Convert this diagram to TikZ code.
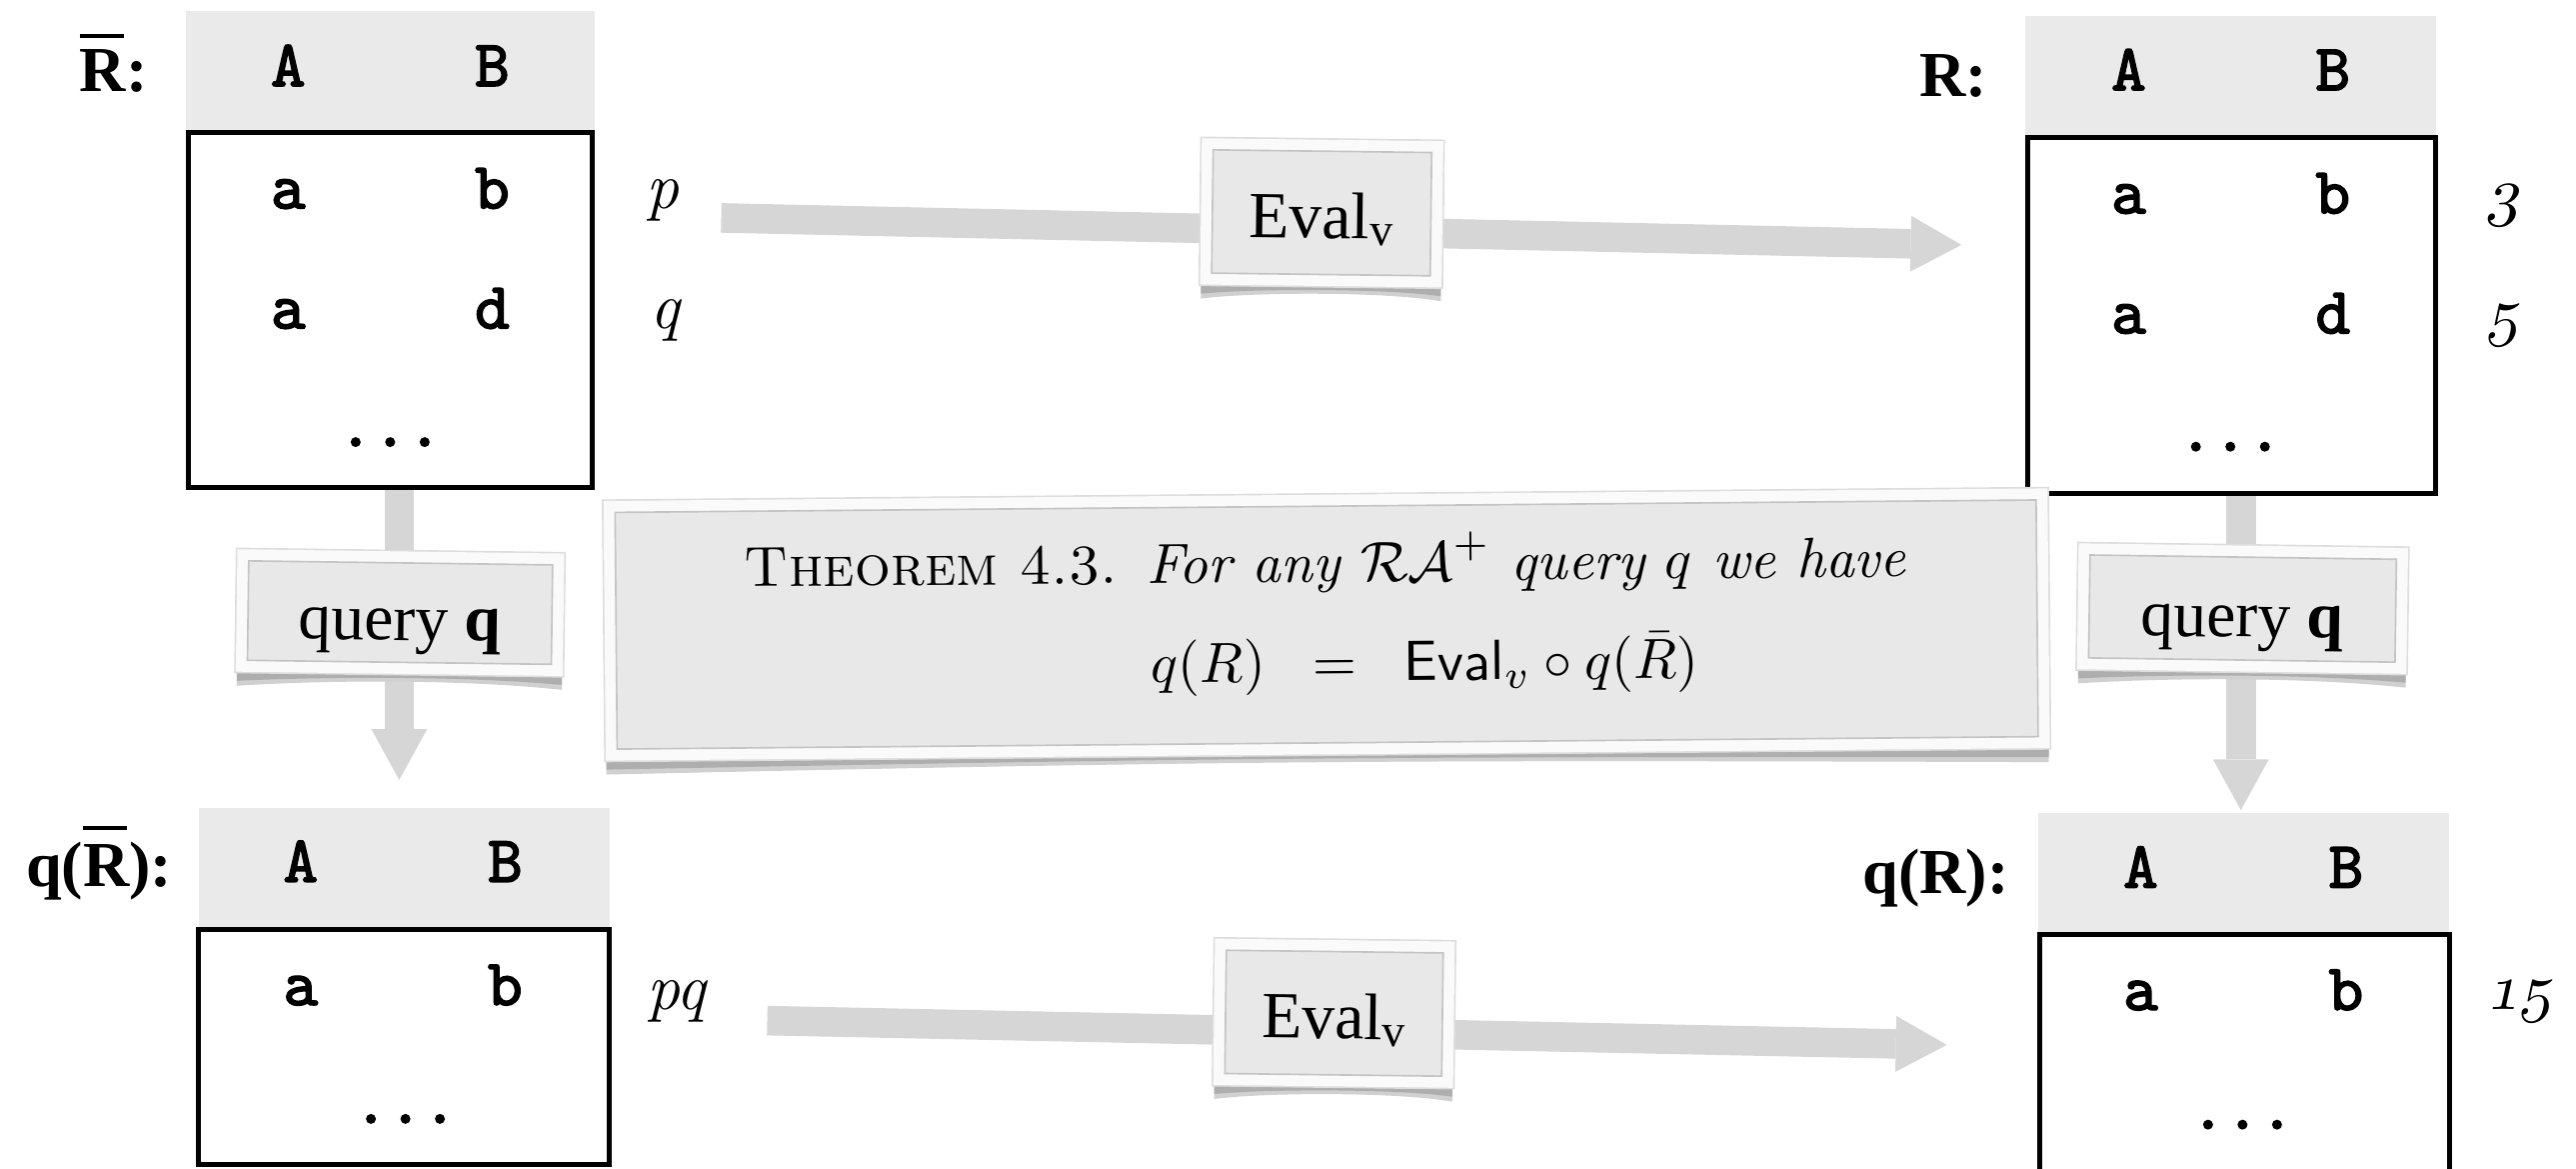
\documentclass[tikz,border=0pt]{standalone}
\usepackage{fontspec}
\newfontfamily\tms{Liberation Serif}
\newfontfamily\ttb[FakeBold=2.5]{lmmono10-regular.otf}
\usetikzlibrary{arrows.meta,calc}
\definecolor{hdrgray}{HTML}{EAEAEA}
\definecolor{arrgray}{HTML}{D6D6D6}
\definecolor{boxgray}{HTML}{E8E8E8}
\definecolor{boxline}{HTML}{C4C4C4}
\definecolor{framefill}{HTML}{FAFAFA}
\definecolor{frameline}{HTML}{DDDDDD}
\definecolor{shadowc}{HTML}{AEAEAE}
\definecolor{shadowd}{HTML}{D0D0D0}
\pgfdeclarelayer{arrowlayer}
\pgfdeclarelayer{shadowlayer}
\pgfsetlayers{arrowlayer,shadowlayer,main}
\newcommand\barR[1]{\makebox[0pt][l]{\raisebox{#1}{\rule{0.68em}{0.07em}}}R}
\newcommand\curlshadow[1]{%
  \begin{pgfonlayer}{shadowlayer}
    \fill[shadowd] ($(#1.south west)+(-6,5)$) -- ($(#1.south east)+(6,5)$)
      -- ($(#1.south east)+(6,15)$) .. controls ($(#1.south)+(40,10)$) and ($(#1.south)+(-40,10)$) .. ($(#1.south west)+(-6,15)$) -- cycle;
    \fill[shadowc] ($(#1.south west)+(-6,5)$) -- ($(#1.south east)+(6,5)$)
      -- ($(#1.south east)+(6,12)$) .. controls ($(#1.south)+(40,8)$) and ($(#1.south)+(-40,8)$) .. ($(#1.south west)+(-6,12)$) -- cycle;
  \end{pgfonlayer}}
\tikzset{
  hdr/.style={fill=hdrgray, inner sep=0pt},
  tbody/.style={draw=black, line width=3pt, inner sep=0pt},
  cell/.style={anchor=base, inner sep=0pt, font=\fontsize{40}{42}\selectfont\ttb},
  rlabel/.style={anchor=base east, inner sep=0pt, font=\fontsize{39}{42}\selectfont\tms\bfseries},
  ann/.style={anchor=base, inner sep=0pt, font=\fontsize{40}{44}\selectfont\itshape},
  num/.style={anchor=base, inner sep=0pt, scale=4, xslant=0.22, font=\fontsize{10}{12}\selectfont\usefont{OML}{cmm}{m}{it}},
  bigarrow/.style={draw=arrgray, line width=18pt, -{Triangle[width=34pt,length=31pt,line width=0pt]}},
  tagbox/.style={fill=boxgray, draw=boxline, line width=1pt, inner sep=0pt, text depth=0pt,
    preaction={draw=frameline, line width=16pt},
    preaction={draw=framefill, line width=14pt},
    font=\fontsize{40}{44}\selectfont\tms},
  thmtext/.style={anchor=base, inner sep=0pt, rotate=0.5, scale=3.44, font=\fontsize{10}{12}\selectfont},
}
\begin{document}
\begin{tikzpicture}[x=1pt,y=-1pt]
\useasboundingbox (0,0) rectangle (1568,711);
% ---------- table R-bar (top left)
\node[hdr, minimum width=249pt, minimum height=73pt] (hRb) at (237.5,43.5) {};
\node[tbody, minimum width=246pt, minimum height=216pt] (bRb) at (237.5,188.5) {};
\node[rlabel] (lRb) at (90,55.8) {\barR{0.837em}:};
\node[cell] (hRbA) at (175.4,52.3) {A};
\node[cell] (hRbB) at (299.6,52.3) {B};
\node[cell] (c11) at (175.4,126.8) {a};
\node[cell] (c12) at (299.6,126.8) {b};
\node[cell] (c21) at (175.4,199.8) {a};
\node[cell] (c22) at (299.6,199.8) {d};
\node[cell] (cdots1) at (237.5,271.5) {...};
\node[ann] (ap) at (403.6,126.8) {p};
\node[ann] (aq) at (405,200) {q};
% ---------- table R (top right)
\node[hdr, minimum width=250pt, minimum height=72.3pt] (hR) at (1358,45.85) {};
\node[tbody, minimum width=248pt, minimum height=217pt] (bR) at (1358.5,192) {};
\node[rlabel] (lR) at (1210,59) {R:};
\node[cell] (hRA) at (1295.7,54.8) {A};
\node[cell] (hRB) at (1420,54.8) {B};
\node[cell] (d11) at (1295.7,129.8) {a};
\node[cell] (d12) at (1420,129.8) {b};
\node[cell] (d21) at (1295.7,202.8) {a};
\node[cell] (d22) at (1420,202.8) {d};
\node[cell] (ddots) at (1357.6,274.3) {...};
\node[num] (n3) at (1523.5,129.8) {3};
\node[num] (n5) at (1523.5,202.8) {5};
% ---------- table q(R-bar) (bottom left)
\node[hdr, minimum width=250pt, minimum height=72.3pt] (hqRb) at (246,527.85) {};
\node[tbody, minimum width=250pt, minimum height=143pt] (bqRb) at (246,637) {};
\node[rlabel] (lqRb) at (105,539.6) {q(\barR{0.88em}):};
\node[cell] (hqRbA) at (183,536.5) {A};
\node[cell] (hqRbB) at (307.5,536.5) {B};
\node[cell] (e11) at (183,611.5) {a};
\node[cell] (e12) at (307.5,611.5) {b};
\node[cell] (edots) at (246.8,683.3) {...};
\node[ann] (apq) at (411.8,614.5) {pq};
% ---------- table q(R) (bottom right)
\node[hdr, minimum width=250.2pt, minimum height=72.3pt] (hqR) at (1365.9,530.85) {};
\node[tbody, minimum width=249.6pt, minimum height=160pt] (bqR) at (1366.3,648.5) {};
\node[rlabel] (lqR) at (1223,543.5) {q(R):};
\node[cell] (hqRA) at (1303,540) {A};
\node[cell] (hqRB) at (1428,540) {B};
\node[cell] (f11) at (1303,614.5) {a};
\node[cell] (f12) at (1428,614.5) {b};
\node[cell] (fdots) at (1365,686.8) {...};
\node[num] (n15) at (1533.75,614.5) {15};
% ---------- arrows
\coordinate (t1s) at (439,132.6);
\coordinate (t1e) at (1194,149);
\coordinate (t2s) at (467,621);
\coordinate (t2e) at (1185,635.8);
\coordinate (v1e) at (243,474.6);
\coordinate (v2e) at (1364,493);
\begin{pgfonlayer}{arrowlayer}
  \draw[bigarrow] (t1s) -- (t1e);
  \draw[bigarrow] (t2s) -- (t2e);
  \draw[bigarrow] ([xshift=5.5pt]bRb.south) -- (v1e);
  \draw[bigarrow] ([xshift=5.5pt]bR.south) -- (v2e);
\end{pgfonlayer}
% ---------- label boxes
\node[tagbox, minimum width=133pt, minimum height=75pt, text height=31pt, rotate=-0.7] (ev1) at (804.5,129.5) {Eval\textsubscript{v}};
\curlshadow{ev1}
\node[tagbox, minimum width=132pt, minimum height=75pt, text height=31pt, rotate=-0.7] (ev2) at (812,616.5) {Eval\textsubscript{v}};
\curlshadow{ev2}
\node[tagbox, minimum width=185pt, minimum height=60.5pt, text height=33.5pt, rotate=-0.76] (qL) at (243.5,372.75) {query \textbf{q}};
\curlshadow{qL}
\node[tagbox, minimum width=186.5pt, minimum height=62.6pt, text height=34.6pt, rotate=-0.8] (qR) at (1365,370.3) {query \textbf{q}};
\curlshadow{qR}
% ---------- theorem
\node[tagbox, minimum width=865pt, minimum height=144pt, rotate=0.5] (thm) at (807.5,380) {};
\curlshadow{thm}
\node[thmtext] (thm1) at (806.8,354) {\textsc{Theorem 4.3.}\hspace{0.5em}\textit{For any $\mathcal{RA}^+$\ query $q$ we have}};
\node[thmtext] (thm2) at (867.5,414) {$q(R)\;\;=\;\;\mathsf{Eval}_v\circ q(\bar{R})$};
\end{tikzpicture}
\end{document}
